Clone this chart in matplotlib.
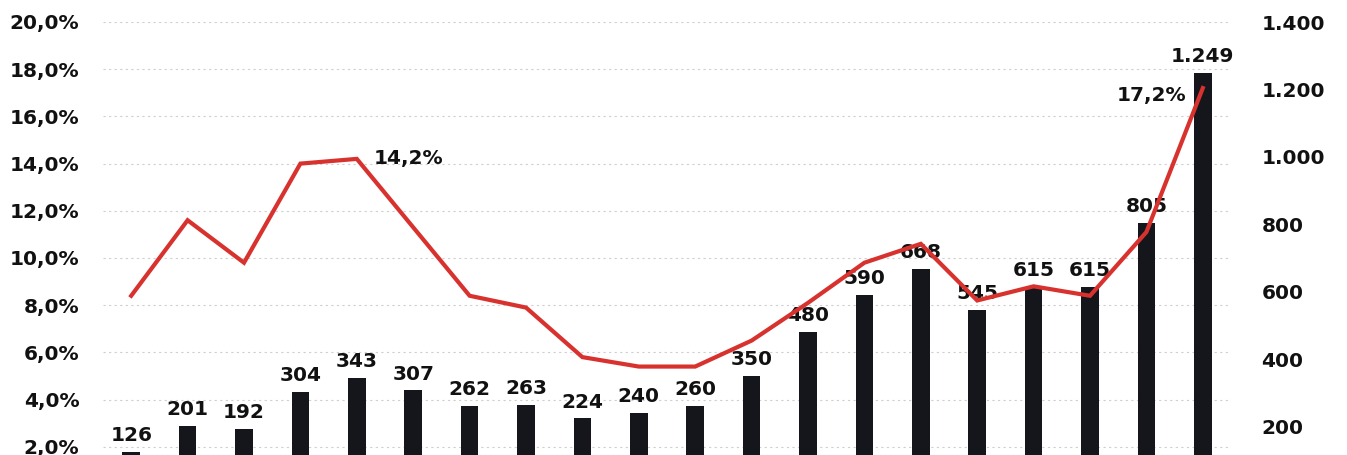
import matplotlib.pyplot as plt
from matplotlib.ticker import FuncFormatter

# yearly counts (bars, right axis) and share in percent (line, left axis)
counts = [126, 201, 192, 304, 343, 307, 262, 263, 224, 240,
          260, 350, 480, 590, 668, 545, 615, 615, 805, 1249]
share = [8.4, 11.6, 9.8, 14.0, 14.2, 11.3, 8.4, 7.9, 5.8, 5.4,
         5.4, 6.5, 8.1, 9.8, 10.6, 8.2, 8.8, 8.4, 11.1, 17.2]
share_labels = {4: 'left', 19: 'right'}
pct_ticks = [2, 4, 6, 8, 10, 12, 14, 16, 18, 20]
count_ticks = [200, 400, 600, 800, 1000, 1200, 1400]
PCT_MAX, COUNT_MAX = 20, 1400

BAR_COLOR = '#15161c'
LINE_COLOR = '#d8322f'
FONT = 'DejaVu Sans'


def fmt_thousands(v, _pos=None):
    return f'{int(round(v)):,}'.replace(',', '.')


def fmt_pct(v, _pos=None):
    return f'{v:.1f}%'.replace('.', ',')


fig = plt.figure(figsize=(13.47, 4.55), dpi=100)
W, H = 1347, 455
ax = fig.add_axes([103 / W, -39 / H, 1128 / W, 472 / H])
ax2 = ax.twinx()

x = list(range(len(counts)))

# gridlines follow the percent ticks but live on the bar axes so they stay behind the bars
for t in pct_ticks:
    ax2.axhline(t * COUNT_MAX / PCT_MAX, color='#cfcfcf', lw=0.8, ls=(0, (2, 3)), zorder=0)

# bars on the right-hand scale
ax2.bar(x, counts, width=0.31, color=BAR_COLOR, zorder=2)
for xi, c in zip(x, counts):
    ax2.annotate(fmt_thousands(c), (xi, c), xytext=(0, 5), textcoords='offset points',
                 ha='center', va='bottom', fontsize=14.5, fontweight='bold',
                 family=FONT, color='#111111')
ax2.set_ylim(0, COUNT_MAX)
ax2.set_yticks(count_ticks)
ax2.yaxis.set_major_formatter(FuncFormatter(fmt_thousands))

# line on the left-hand scale, drawn above the bars
ax.set_zorder(ax2.get_zorder() + 1)
ax.patch.set_visible(False)
ax.plot(x, share, color=LINE_COLOR, lw=3.0, solid_joinstyle='miter', zorder=3)
for i, side in share_labels.items():
    if side == 'left':
        ax.annotate(fmt_pct(share[i]), (x[i], share[i]), xytext=(12, 0),
                    textcoords='offset points', ha='left', va='center',
                    fontsize=14.5, fontweight='bold', family=FONT, color='#111111')
    else:
        ax.annotate(fmt_pct(share[i]), (x[i], share[i]), xytext=(-12, -5),
                    textcoords='offset points', ha='right', va='center',
                    fontsize=14.5, fontweight='bold', family=FONT, color='#111111')
ax.set_ylim(0, PCT_MAX)
ax.set_yticks(pct_ticks)
ax.yaxis.set_major_formatter(FuncFormatter(fmt_pct))
ax.set_xlim(-0.5, len(counts) - 0.5)

for a in (ax, ax2):
    for s in a.spines.values():
        s.set_visible(False)
    a.tick_params(length=0, labelsize=14.5)
    for lab in a.get_yticklabels():
        lab.set_fontweight('bold')
        lab.set_family(FONT)
        lab.set_color('#111111')
ax.tick_params(axis='y', pad=17)
ax2.tick_params(axis='y', pad=22)
ax.set_xticks([])

fig.savefig('out.png', dpi=100, facecolor='white')
